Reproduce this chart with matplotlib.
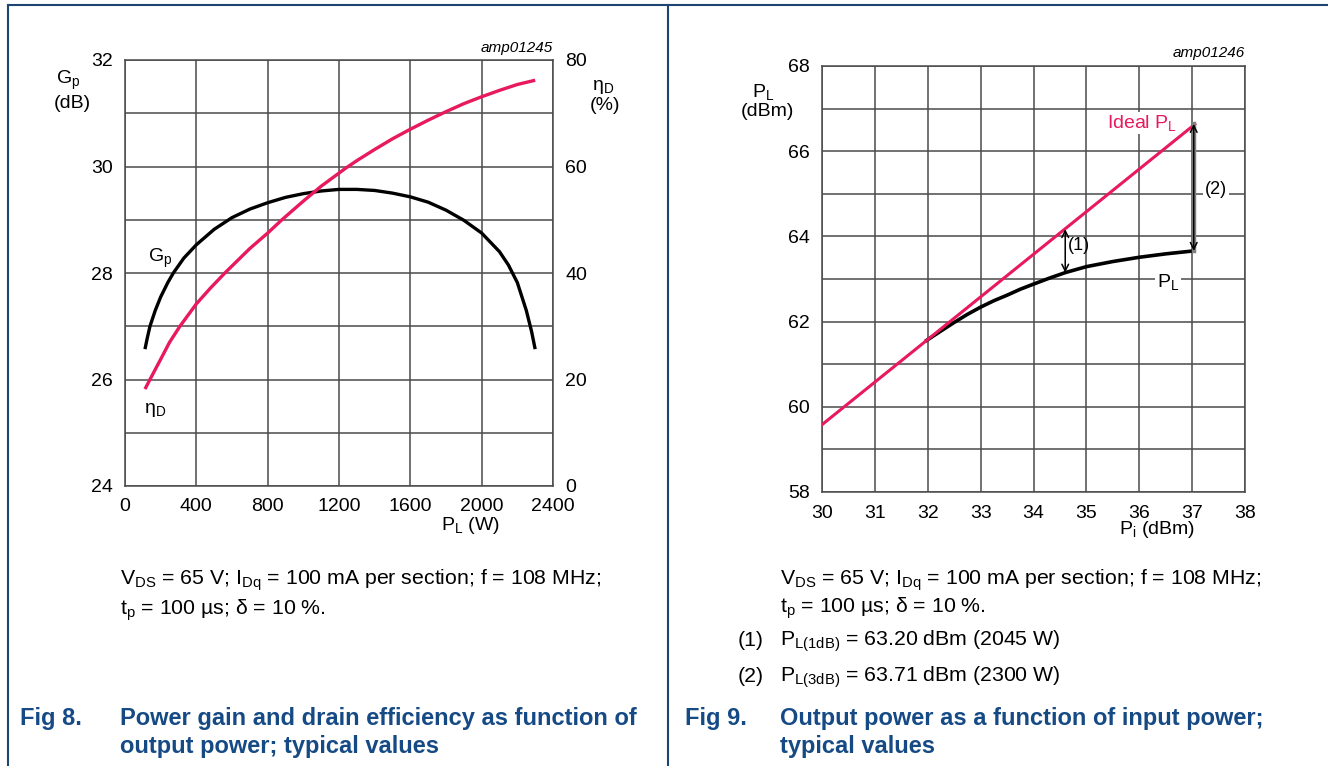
import matplotlib
matplotlib.use("Agg")
import matplotlib.pyplot as plt
from matplotlib.lines import Line2D

plt.rcParams["font.family"] = ["Liberation Sans", "DejaVu Sans"]
plt.rcParams["mathtext.fontset"] = "custom"
plt.rcParams["mathtext.rm"] = "Liberation Sans"
plt.rcParams["mathtext.it"] = "Liberation Sans:italic"
plt.rcParams["mathtext.default"] = "regular"

# Fig 8: power gain and drain efficiency vs output power
pl_w = [112, 125, 140, 170, 200, 240, 271, 330, 400, 500, 600, 700, 800, 900, 1000,
        1100, 1200, 1300, 1400, 1500, 1600, 1700, 1800, 1900, 2000, 2100, 2150,
        2200, 2250, 2280, 2300]
gp_db = [26.57, 26.78, 27.0, 27.3, 27.55, 27.82, 28.0, 28.28, 28.53, 28.82, 29.04,
         29.2, 29.32, 29.42, 29.49, 29.54, 29.57, 29.57, 29.55, 29.5, 29.43, 29.33,
         29.18, 28.99, 28.75, 28.4, 28.15, 27.82, 27.3, 26.9, 26.57]

eta_pl_w = [112, 140, 200, 250, 308, 400, 480, 560, 700, 800, 880, 1000, 1100, 1234,
            1300, 1400, 1500, 1600, 1700, 1800, 1900, 2000, 2100, 2200, 2300]
eta_pct = [18.2, 20.0, 23.8, 27.0, 30.0, 34.2, 37.2, 40.0, 44.6, 47.5, 50.0, 53.5,
           56.3, 59.6, 61.1, 63.2, 65.2, 67.0, 68.7, 70.3, 71.8, 73.1, 74.3, 75.4, 76.2]

pl_ticks = [0, 400, 800, 1200, 1600, 2000, 2400]
gp_ticks = [24, 26, 28, 30, 32]
eta_ticks = [0, 20, 40, 60, 80]

# Fig 9: output power vs input power
ideal_pi = [30.0, 37.05]
ideal_pl = [59.58, 66.63]

pi_dbm = [31.98, 32.25, 32.5, 32.75, 33.0, 33.25, 33.5, 33.75, 34.0, 34.3, 34.6,
          35.0, 35.5, 36.0, 36.5, 37.03]
pl_dbm = [61.56, 61.78, 61.98, 62.17, 62.34, 62.49, 62.62, 62.76, 62.88, 63.02,
          63.15, 63.29, 63.41, 63.51, 63.59, 63.66]

# compression markers: (input power, measured P_L, ideal P_L)
p1db = (34.6, 63.15, 64.17)
p3db = (37.03, 63.66, 66.64)

RED = "#e8195c"
BLUE = "#164a85"
GRID = "#4a4a4a"

W, H = 1328, 766
fig = plt.figure(figsize=(W / 100, H / 100), dpi=100)


def fx(x):
    return x / W


def fy(y):
    return 1 - y / H


def put(x, y, s, **kw):
    kw.setdefault("ha", "center")
    kw.setdefault("va", "center")
    return fig.text(fx(x), fy(y), s, **kw)


def style_grid(ax):
    ax.grid(True, color=GRID, linewidth=1.1)
    ax.set_axisbelow(True)
    for sp in ax.spines.values():
        sp.set_color(GRID)
        sp.set_linewidth(1.1)
    ax.tick_params(length=0, labelsize=14, pad=9)


# ---- left panel ----
ax1 = fig.add_axes([fx(125), fy(486), (553 - 125) / W, (486 - 60) / H])
ax1.set_xlim(0, 2400)
ax1.set_ylim(24, 32)
ax1.set_xticks(range(0, 2401, 400), labels=[str(t) for t in pl_ticks])
ax1.set_yticks([24 + i for i in range(9)])
ax1.set_yticklabels([str(v) if v in gp_ticks else "" for v in range(24, 33)])
style_grid(ax1)
ax1.plot(pl_w, gp_db, color="black", linewidth=2.4, solid_capstyle="butt",
         solid_joinstyle="round")

ax1b = ax1.twinx()
ax1b.set_ylim(0, 80)
ax1b.set_yticks(eta_ticks)
ax1b.tick_params(length=0, labelsize=14, pad=9)
for sp in ax1b.spines.values():
    sp.set_visible(False)
ax1b.plot(eta_pl_w, eta_pct, color=RED, linewidth=2.4, solid_capstyle="butt",
          solid_joinstyle="round")

put(68, 80, "G$_p$", fontsize=14)
put(72, 103, "(dB)", fontsize=14)
put(603, 87, "η$_D$", fontsize=14)
put(605, 106, "(%)", fontsize=14)
put(553, 48, "amp01245", fontsize=11, style="italic", ha="right")
put(470, 525, "P$_L$ (W)", fontsize=14)
put(160, 258, "G$_p$", fontsize=14, bbox=dict(fc="white", ec="none", pad=0.5))
put(155, 410, "η$_D$", fontsize=14)

put(120, 580, "V$_{DS}$ = 65 V; I$_{Dq}$ = 100 mA per section; f = 108 MHz;", fontsize=15.3, ha="left")
put(120, 610, "t$_p$ = 100 µs; δ = 10 %.", fontsize=15.3, ha="left")
put(20, 718, "Fig 8.", fontsize=17, weight="bold", color=BLUE, ha="left")
put(120, 718, "Power gain and drain efficiency as function of", fontsize=17, weight="bold", color=BLUE, ha="left")
put(120, 746, "output power; typical values", fontsize=17, weight="bold", color=BLUE, ha="left")

# ---- right panel ----
ax2 = fig.add_axes([fx(822), fy(492), (1245 - 822) / W, (492 - 66) / H])
ax2.set_xlim(30, 38)
ax2.set_ylim(58, 68)
ax2.set_xticks(range(30, 39))
ax2.set_yticks(range(58, 69))
ax2.set_yticklabels([str(v) if v % 2 == 0 else "" for v in range(58, 69)])
style_grid(ax2)
ax2.plot(ideal_pi, ideal_pl, color=RED, linewidth=2.2, zorder=3)
ax2.plot(pi_dbm, pl_dbm, color="black", linewidth=2.6, zorder=2,
         solid_joinstyle="round")

# 1 dB and 3 dB compression arrows
ax2.plot([p3db[0]] * 2, [p3db[1], p3db[2]], color="#808080", linewidth=3.2, zorder=4)
for x, lo, hi in (p1db, p3db):
    ax2.annotate("", xy=(x, hi), xytext=(x, lo),
                 arrowprops=dict(arrowstyle="<->", color="black", lw=1.1,
                                 shrinkA=0, shrinkB=0, mutation_scale=12),
                 zorder=5)

put(1079, 246, "(1)", fontsize=13)
put(1216, 190, "(2)", fontsize=13, bbox=dict(fc="white", ec="none", pad=1.5))
put(1168, 282, "P$_L$", fontsize=14, bbox=dict(fc="white", ec="none", pad=1.5))
put(1142, 123, "Ideal P$_L$", fontsize=14, color=RED, bbox=dict(fc="white", ec="none", pad=1))
put(763, 92, "P$_L$", fontsize=14)
put(767, 111, "(dBm)", fontsize=14)
put(1245, 53, "amp01246", fontsize=11, style="italic", ha="right")
put(1157, 530, "P$_i$ (dBm)", fontsize=14)

put(780, 580, "V$_{DS}$ = 65 V; I$_{Dq}$ = 100 mA per section; f = 108 MHz;", fontsize=15.3, ha="left")
put(780, 608, "t$_p$ = 100 µs; δ = 10 %.", fontsize=15.3, ha="left")
put(738, 641, "(1)", fontsize=15.3, ha="left")
put(780, 641, "P$_{L(1dB)}$ = 63.20 dBm (2045 W)", fontsize=15.3, ha="left")
put(738, 677, "(2)", fontsize=15.3, ha="left")
put(780, 677, "P$_{L(3dB)}$ = 63.71 dBm (2300 W)", fontsize=15.3, ha="left")
put(685, 718, "Fig 9.", fontsize=17, weight="bold", color=BLUE, ha="left")
put(780, 718, "Output power as a function of input power;", fontsize=17, weight="bold", color=BLUE, ha="left")
put(780, 746, "typical values", fontsize=17, weight="bold", color=BLUE, ha="left")

# panel frame
frame = dict(color="#1d4573", linewidth=1.5, transform=fig.transFigure)
fig.add_artist(Line2D([fx(8), 1], [fy(5), fy(5)], **frame))
fig.add_artist(Line2D([fx(8), fx(8)], [fy(5), 0], **frame))
fig.add_artist(Line2D([fx(668), fx(668)], [fy(5), 0], **frame))

fig.savefig("out.png", dpi=100)
